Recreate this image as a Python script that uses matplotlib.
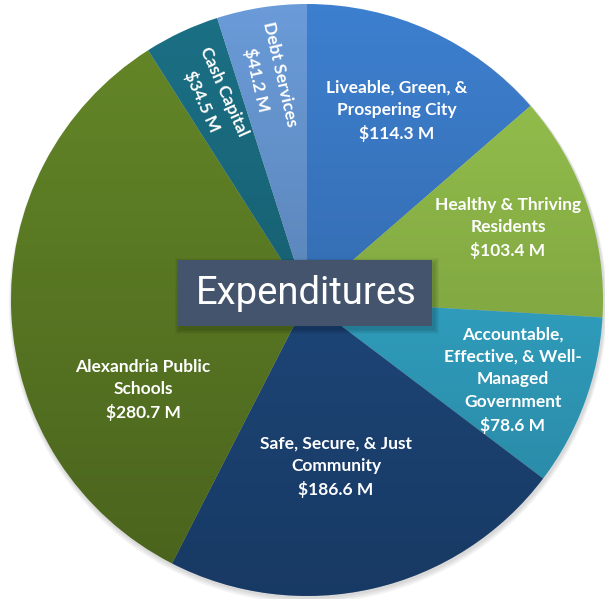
import numpy as np
import matplotlib.pyplot as plt
from matplotlib.patches import Circle, Rectangle

# budget areas, clockwise from 12 o'clock
areas = ["Liveable, Green, &\nProspering City",
         "Healthy & Thriving\nResidents",
         "Accountable,\nEffective, & Well-\nManaged\nGovernment",
         "Safe, Secure, & Just\nCommunity",
         "Alexandria Public\nSchools",
         "Cash Capital",
         "Debt Services"]
amounts = [114.3, 103.4, 78.6, 186.6, 280.7, 34.5, 41.2]  # $ millions
colors = ["#3d7fcf", "#98c54e", "#37b5da", "#21508a", "#658828", "#1b7085", "#6a9bd8"]

W, H = 605, 599
fig = plt.figure(figsize=(W / 100, H / 100), dpi=100)
ax = fig.add_axes([0, 0, 1, 1])

cx, cy, r = 307, H - 300, 296

# soft shadow under the pie
for i in range(3):
    ax.add_patch(Circle((cx + 1, cy - 2 - i), r + 1 + i, color="black", alpha=0.05, lw=0, zorder=0))

wedges, _ = ax.pie(amounts, colors=colors, startangle=90, counterclock=False,
                   center=(cx, cy), radius=r, wedgeprops=dict(linewidth=0))

# vertical shading: darker towards the bottom
grad = np.zeros((256, 1, 4))
grad[:, 0, 3] = np.linspace(0.28, 0.0, 256)
im = ax.imshow(grad, extent=[cx - r, cx + r, cy - r, cy + r], origin="lower",
               aspect="auto", zorder=3)
im.set_clip_path(Circle((cx, cy), r, transform=ax.transData))

lbl = dict(color="white", fontsize=12.5, fontweight="bold", family="Lato",
           ha="center", va="center", linespacing=1.5, zorder=5)

def txt(i):
    return f"{areas[i]}\n${amounts[i]} M"

ax.text(397, H - 111, txt(0), **lbl)
ax.text(508, H - 228, txt(1), **lbl)
ax.text(513, H - 380, txt(2), **lbl)
ax.text(336, H - 467, txt(3), **lbl)
ax.text(143, H - 390, txt(4), **lbl)
ax.text(213, H - 97, txt(5), rotation=-66, rotation_mode="anchor", **lbl)
ax.text(268, H - 77, txt(6), rotation=-77, rotation_mode="anchor", **lbl)

# title box in the middle
bx0, bx1, by0, by1 = 178, 432, 260, 326
for i in range(1, 6):
    ax.add_patch(Rectangle((bx0 + 2 - i, H - by1 - 3 - i), bx1 - bx0 + 2 * i, by1 - by0 + 2 * i,
                           color="black", alpha=0.04, lw=0, zorder=6))
ax.add_patch(Rectangle((bx0, H - by1), bx1 - bx0, by1 - by0, color="#44546d", lw=0, zorder=7))
ax.text((bx0 + bx1) / 2 + 1, H - (by0 + by1) / 2 - 1, "Expenditures", color="white",
        fontsize=27.5, family="Roboto", ha="center", va="center", zorder=8)

ax.set_xlim(0, W)
ax.set_ylim(0, H)
ax.set_aspect("auto")
ax.axis("off")

fig.savefig("out.png", dpi=100)
